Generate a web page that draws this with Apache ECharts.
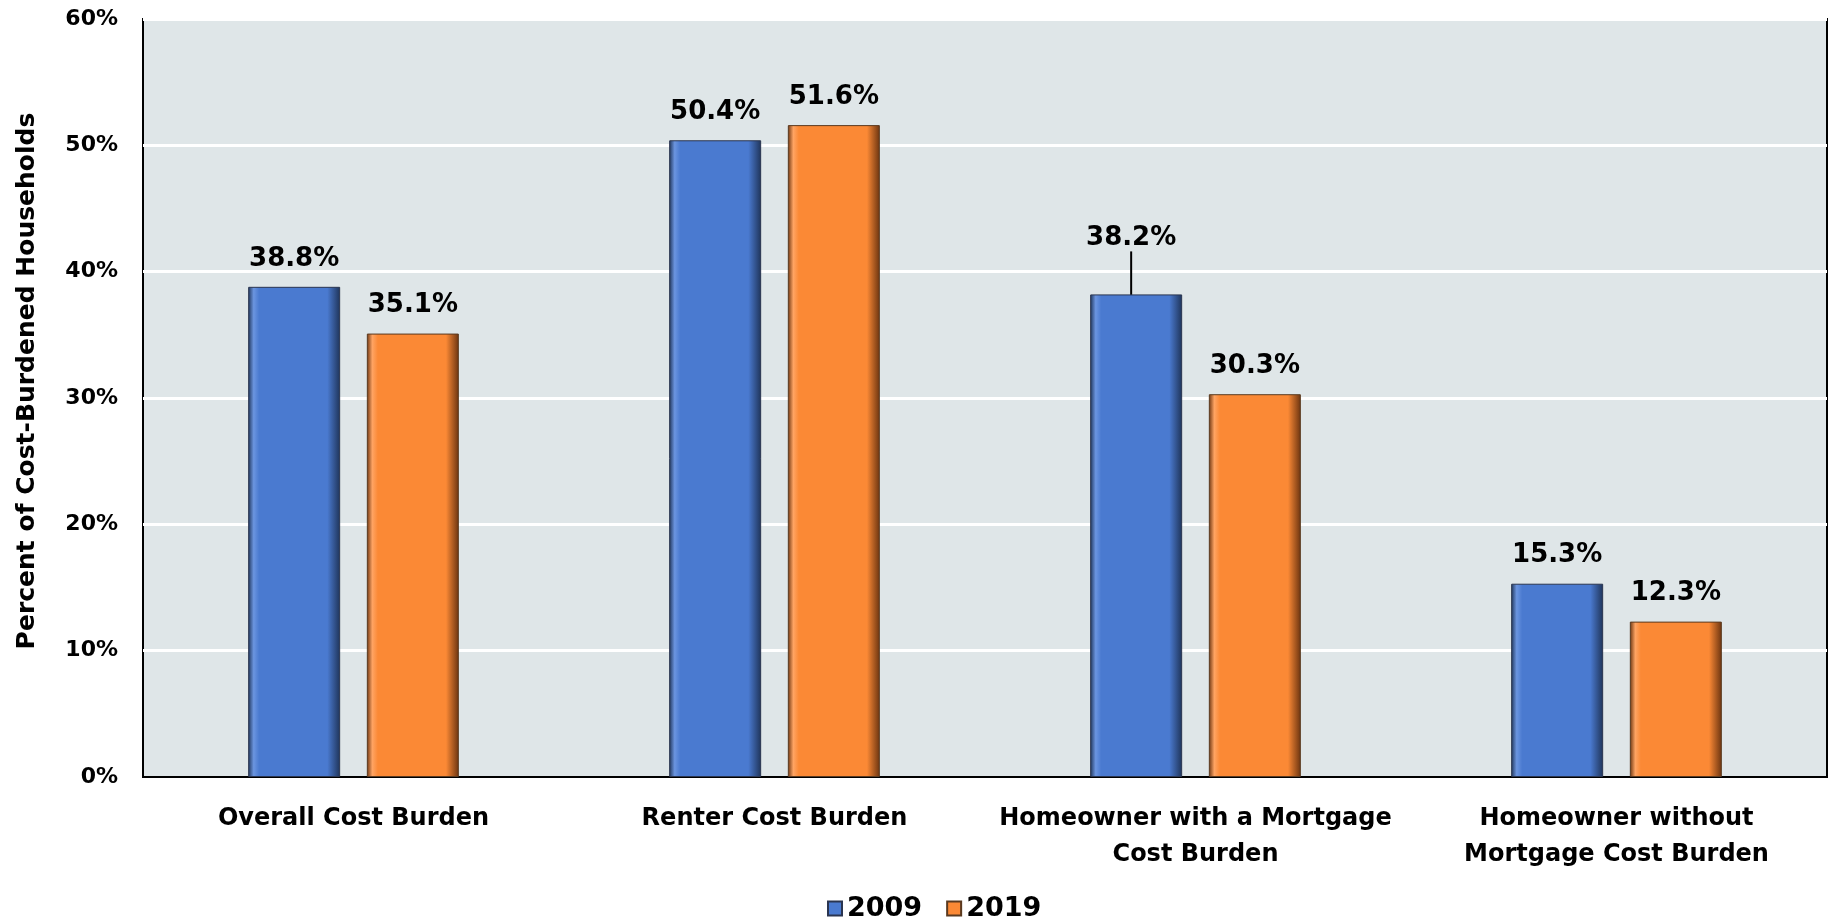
<!DOCTYPE html>
<html>
<head>
<meta charset="utf-8">
<script src="https://cdn.jsdelivr.net/npm/echarts@6/dist/echarts.min.js"></script>
<style>
  html, body { margin: 0; padding: 0; background: #fff; }
  #main { width: 1833px; height: 922px; }
</style>
</head>
<body>
<div id="main"></div>
<script>
const categories = [
  "Overall Cost Burden",
  "Renter Cost Burden",
  "Homeowner with a Mortgage\nCost Burden",
  "Homeowner without\nMortgage Cost Burden",
];
const values2009 = [38.8, 50.4, 38.2, 15.3];
const values2019 = [35.1, 51.6, 30.3, 12.3];
const yTicks = [0, 10, 20, 30, 40, 50, 60];
// index of the 2009 label that is pulled up with a leader line
const leaderIndex = 2;

const font = "DejaVu Sans";

function barFill(light, main, dark) {
  return new echarts.graphic.LinearGradient(0, 0, 1, 0, [
    { offset: 0, color: dark },
    { offset: 0.06, color: light },
    { offset: 0.12, color: main },
    { offset: 0.86, color: main },
    { offset: 1, color: dark },
  ]);
}

const chart = echarts.init(document.getElementById("main"));

const label = {
  show: true,
  position: "top",
  distance: 15,
  fontFamily: font,
  fontWeight: "bold",
  fontSize: 26,
  color: "#000",
  formatter: (p) => p.value.toFixed(1) + "%",
};

chart.setOption({
  animation: false,
  textStyle: { fontFamily: font },
  grid: {
    left: 143,
    right: 6,
    top: 19,
    bottom: 145,
    show: true,
    backgroundColor: "#dfe6e8",
    borderColor: "#000",
    borderWidth: 2,
  },
  legend: {
    top: 890,
    left: 822,
    itemWidth: 14,
    itemHeight: 14,
    itemGap: 24,
    icon: "rect",
    textStyle: { fontFamily: font, fontWeight: "bold", fontSize: 27, color: "#000" },
    data: ["2009", "2019"],
  },
  xAxis: {
    type: "category",
    data: categories,
    axisTick: { show: false },
    axisLine: { lineStyle: { color: "#000", width: 2 } },
    axisLabel: {
      margin: 24,
      fontFamily: font,
      fontWeight: "bold",
      fontSize: 24,
      color: "#000",
      lineHeight: 36,
      interval: 0,
    },
  },
  yAxis: {
    type: "value",
    min: yTicks[0],
    max: yTicks[yTicks.length - 1],
    interval: 10,
    name: "Percent of Cost-Burdened Households",
    nameLocation: "middle",
    nameGap: 103,
    nameTextStyle: {
      fontFamily: font,
      fontWeight: "bold",
      fontSize: 25,
      color: "#000",
      padding: [0, 0, 0, 34],
    },
    axisLine: { show: false },
    axisTick: { show: false },
    splitLine: { lineStyle: { color: "#fff", width: 3 } },
    axisLabel: {
      margin: 25,
      fontFamily: font,
      fontWeight: "bold",
      fontSize: 22,
      color: "#000",
      formatter: "{value}%",
    },
  },
  series: [
    {
      name: "2009",
      type: "bar",
      data: values2009.map((v, i) =>
        i === leaderIndex
          ? { value: v, labelLine: { show: true, lineStyle: { color: "#000", width: 2 } } }
          : v
      ),
      barWidth: 92,
      barGap: "29%",
      itemStyle: {
        color: barFill("#6b95e0", "#4a7ad0", "#1f3459"),
        borderColor: "#2a3550",
        borderWidth: 1,
      },
      label,
      labelLine: { show: false },
      labelLayout: (p) => (p.dataIndex === leaderIndex ? { dy: -28, dx: -5 } : {}),
    },
    {
      name: "2019",
      type: "bar",
      data: values2019,
      barWidth: 92,
      itemStyle: {
        color: barFill("#ffa463", "#fb8935", "#6b3410"),
        borderColor: "#5a3a20",
        borderWidth: 1,
      },
      label,
    },
  ],
});
</script>
</body>
</html>
